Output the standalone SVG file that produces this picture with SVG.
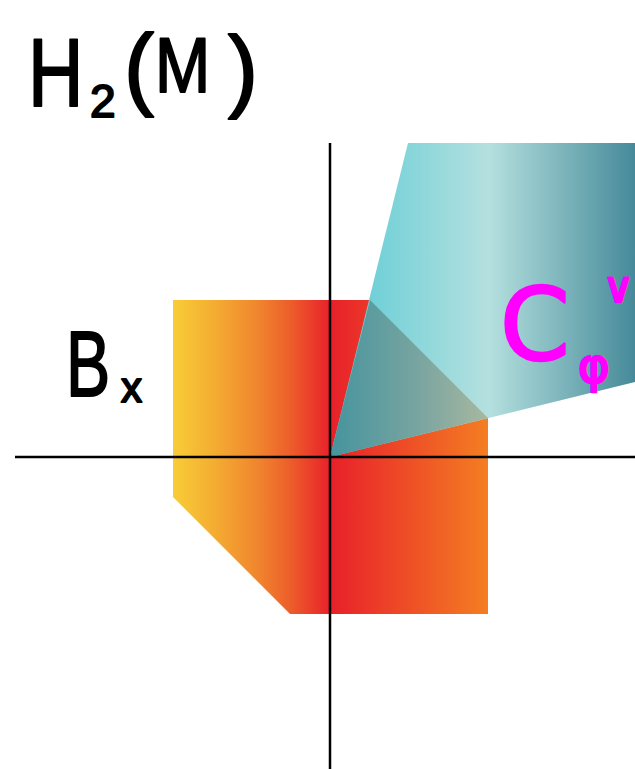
<svg xmlns="http://www.w3.org/2000/svg" width="635" height="769" viewBox="0 0 635 769">
<style>
.hand{font-family:"Liberation Sans","DejaVu Sans",sans-serif;fill:#000;stroke:#000;stroke-width:2;stroke-linejoin:round}
.mag{font-family:"DejaVu Sans","Liberation Sans",sans-serif;fill:#ff00ff;stroke:#ff00ff;stroke-width:2.5;stroke-linejoin:round}
.axis{stroke:#000;stroke-width:2.5;fill:none}
</style>
<defs>
<linearGradient id="gOrange" gradientUnits="userSpaceOnUse" x1="173" y1="0" x2="488" y2="0">
<stop offset="0" stop-color="#f8cd36"/>
<stop offset="0.13" stop-color="#f4ad32"/>
<stop offset="0.27" stop-color="#f0852e"/>
<stop offset="0.38" stop-color="#ed5a2b"/>
<stop offset="0.5" stop-color="#e8202a"/>
<stop offset="1" stop-color="#f47e22"/>
</linearGradient>
<linearGradient id="gCone" gradientUnits="userSpaceOnUse" x1="330" y1="0" x2="635" y2="0">
<stop offset="0" stop-color="#58cbd4"/>
<stop offset="0.52" stop-color="#b5e0df"/>
<stop offset="1" stop-color="#468a99"/>
</linearGradient>
<linearGradient id="gOverlap" gradientUnits="userSpaceOnUse" x1="330" y1="0" x2="488" y2="0">
<stop offset="0" stop-color="#45949e"/>
<stop offset="0.55" stop-color="#78a4a0"/>
<stop offset="1" stop-color="#a8b8a0"/>
</linearGradient>
</defs>
<g id="Bx-region">
<polygon points="173,300 370,300 488,418 488,614 290,614 173,497" fill="url(#gOrange)"/>
</g>
<g id="cone">
<polygon points="330,457 408,143 635,143 635,382" fill="url(#gCone)"/>
<polygon points="330,457 370,300 488,418" fill="url(#gOverlap)"/>
</g>
<g id="axes">
<line class="axis" x1="330" y1="143" x2="330" y2="769"/>
<line class="axis" x1="15" y1="457" x2="635" y2="457"/>
</g>
<g id="title">
<text class="hand" transform="translate(28,106) scale(0.8,1)" font-size="96">H</text>
<text class="hand" x="90" y="117" font-size="46">2</text>
<text class="hand" x="124" y="98" font-size="90">(</text>
<text class="hand" transform="translate(155,92) scale(0.85,1)" font-size="78">M</text>
<text class="hand" x="228" y="100" font-size="90">)</text>
</g>
<g id="Bx-label">
<text class="hand" transform="translate(66,396) scale(0.72,1)" font-size="92">B</text>
<text class="hand" x="121" y="402" font-size="42">x</text>
</g>
<g id="C-label">
<text class="mag" x="500" y="360" font-size="100">C</text>
<text class="mag" x="578" y="382" font-size="48">φ</text>
<text class="mag" x="603" y="302" font-size="42">∨</text>
</g>
</svg>
